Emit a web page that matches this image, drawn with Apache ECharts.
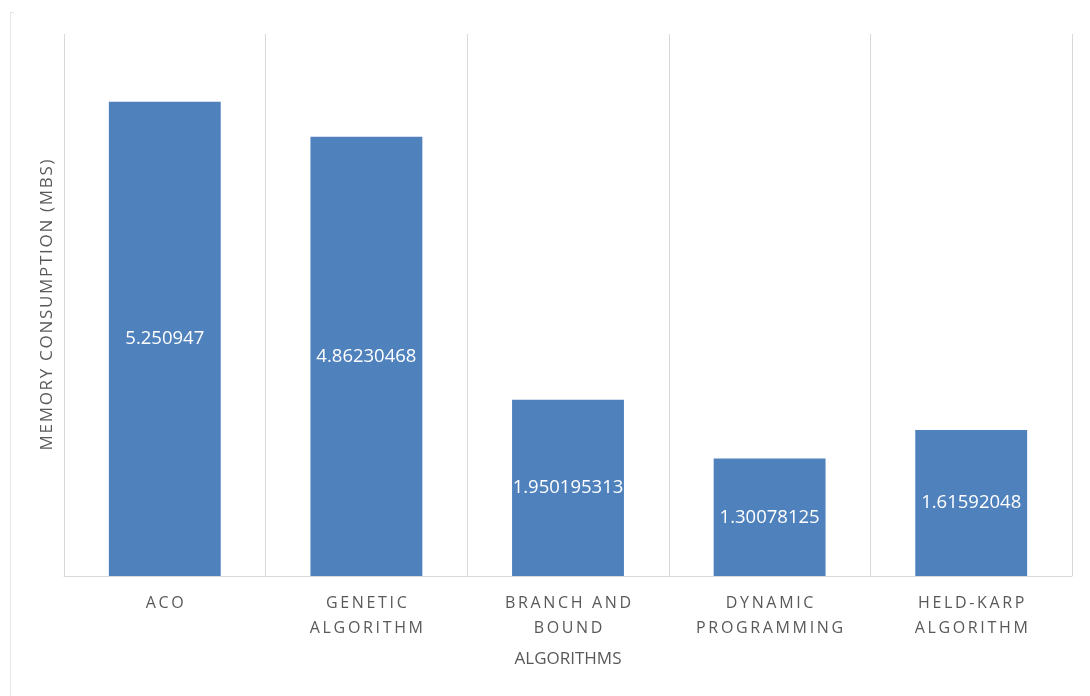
<!DOCTYPE html>
<html>
<head>
<meta charset="utf-8">
<script src="https://cdn.jsdelivr.net/npm/echarts@6/dist/echarts.min.js"></script>
<style>
  html, body { margin: 0; padding: 0; background: #fff; }
  #chart { width: 1090px; height: 696px; }
</style>
</head>
<body>
<div id="chart"></div>
<script>
// data
const categories = ['ACO', 'GENETIC\nALGORITHM', 'BRANCH AND\nBOUND', 'DYNAMIC\nPROGRAMMING', 'HELD-KARP\nALGORITHM'];
const memoryMbs = [5.250947, 4.86230468, 1.950195313, 1.30078125, 1.61592048];
const memoryLabels = ['5.250947', '4.86230468', '1.950195313', '1.30078125', '1.61592048'];

// spread letters out, like the tracked caps of the original
const spaced = (s, gap) => s.split('\n').map(l => l.split('').join(gap)).join('\n');

const chart = echarts.init(document.getElementById('chart'));
chart.setOption({
  animation: false,
  grid: { left: 64, right: 18, top: 34, bottom: 120 },
  xAxis: {
    type: 'category',
    data: categories,
    name: 'ALGORITHMS',
    nameLocation: 'middle',
    nameGap: 75,
    nameTextStyle: { color: '#595959', fontSize: 17, fontFamily: 'Open Sans' },
    axisLine: { show: true, lineStyle: { color: '#d9d9d9', width: 1 } },
    axisTick: { show: false },
    splitLine: { show: true, lineStyle: { color: '#d9d9d9', width: 1 } },
    axisLabel: {
      color: '#595959', fontSize: 16, fontFamily: 'Open Sans',
      margin: 15, lineHeight: 25, interval: 0,
      formatter: v => spaced(v, '\u2009')
    }
  },
  yAxis: {
    type: 'value',
    min: 0, max: 6,
    name: spaced('MEMORY CONSUMPTION (MBS)', '\u200A'),
    nameLocation: 'middle',
    nameGap: 8,
    nameTextStyle: { color: '#595959', fontSize: 17, fontFamily: 'Open Sans' },
    axisLine: { show: false },
    axisTick: { show: false },
    axisLabel: { show: false },
    splitLine: { show: false }
  },
  series: [{
    type: 'bar',
    data: memoryMbs,
    barWidth: '55.5%',
    itemStyle: { color: '#4f81bd' },
    label: {
      show: true,
      position: 'inside',
      color: '#ffffff',
      fontSize: 18.5,
      fontFamily: 'Open Sans',
      formatter: p => memoryLabels[p.dataIndex]
    }
  }],
  graphic: [
    { type: 'line', shape: { x1: 10.5, y1: 12, x2: 10.5, y2: 696 }, style: { stroke: '#e6e6e6', lineWidth: 1 } },
    { type: 'line', shape: { x1: 10.5, y1: 12.5, x2: 14, y2: 12.5 }, style: { stroke: '#e6e6e6', lineWidth: 1 } }
  ]
});
</script>
</body>
</html>
